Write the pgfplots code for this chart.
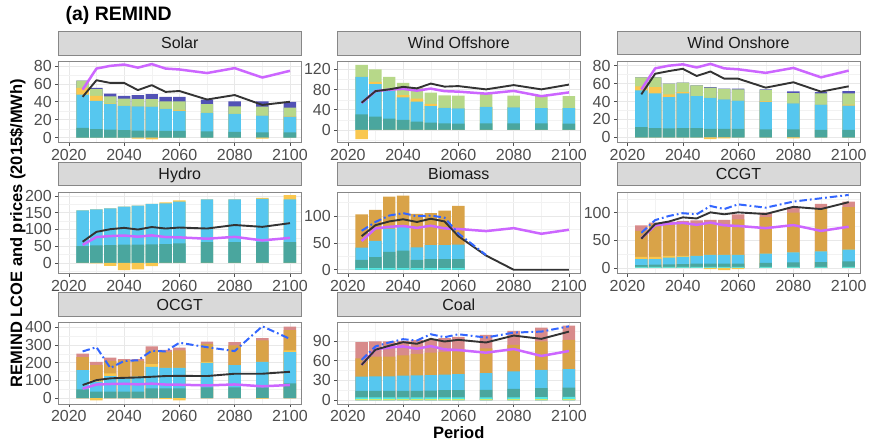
\documentclass[border=0pt]{standalone}
\usepackage{fontspec}
\setmainfont{Liberation Sans}
\usepackage{pgfplots}
\usepackage{pgfplotstable}
\pgfplotsset{compat=1.18}

\definecolor{tealc}{RGB}{74,166,158}
\definecolor{skyb}{RGB}{86,199,239}
\definecolor{yelc}{RGB}{249,199,79}
\definecolor{grnc}{RGB}{183,216,137}
\definecolor{dbluc}{RGB}{82,82,181}
\definecolor{orngc}{RGB}{217,163,72}
\definecolor{pinkc}{RGB}{216,139,139}
\definecolor{cync}{RGB}{84,232,228}
\definecolor{lgrc}{RGB}{205,232,110}
\definecolor{purpc}{RGB}{204,102,255}
\definecolor{blkc}{RGB}{51,51,51}
\definecolor{bluc}{RGB}{51,102,255}
\definecolor{stripgray}{RGB}{217,217,217}
\definecolor{bordergray}{RGB}{135,135,135}
\definecolor{gridmaj}{RGB}{232,232,232}
\definecolor{gridmin}{RGB}{242,242,242}
\definecolor{labgray}{RGB}{77,77,77}
\definecolor{striptext}{RGB}{26,26,26}

\pgfplotstableread{
year te bl ye gr db ng k p
2025 11 48 55.5 63.5 63.5 0 45.5 53.5
2030 9.5 41 46.7 54 55.5 0 64 77
2035 9 37.5 38 46 49 0 61 80
2040 8.5 35.5 35.5 43.5 46.5 0 61 81.5
2045 8 35 35 43 47.5 -1 53 78
2050 8 34.5 34.5 43 48.5 -2 58.5 82
2055 7.5 32 32 40.5 45.5 0 51 77
2060 7.5 30 31 40.5 45.5 0 52 76
2070 7 27.5 27.5 37.5 42.5 0 42.5 72
2080 6.5 26.5 26.5 35 40.5 0 47.5 77.5
2090 6 24.5 24.5 34.5 40.5 -1 36.5 67
2100 6 23.5 24 33.5 40 0 40 74.5
}\tSolar

\pgfplotstableread{
year te bl ye gr ng k p
2025 31 105.5 105.5 129 -18 54 53.5
2030 26.5 91 95.5 120 0 77 77
2035 22.5 78 80 105.5 0 80.5 80
2040 20 64.5 69 93.5 0 85.5 81.5
2045 16.5 56 62 84.5 0 82.5 78
2050 14.5 47.5 51.5 74 0 92 82
2055 13 44 44 68.5 0 86 77
2060 12.5 43 43 68 0 87 76
2070 13 46 46 72.5 0 80.5 72
2080 13 45 45 68 0 89 77.5
2090 13 43.5 43.5 67 0 80.5 67
2100 12.5 43.5 43.5 67 0 90 74.5
}\tOffshore

\pgfplotstableread{
year te bl ye gr db ng k p
2025 11.5 52.5 57 67 67 0 48 53.5
2030 10.5 49 56 67 67 0 71 77
2035 10 45 48 60 60 0 74 80
2040 10.5 49 50.5 61 61 0 76.5 81.5
2045 10.5 46 46 58 58 0 68.5 78
2050 9.5 44 44 55.5 56 -2 73.5 82
2055 9.5 42.5 42.5 54 54.3 -1 65.5 77
2060 9.5 41 41 53.5 54.3 0 65.5 76
2070 9 39.5 40.5 53 53.6 0 55.5 72
2080 9 38 38 49.5 51.4 -1 61.5 77.5
2090 8.5 36.5 36.5 49 50.6 0 51 67
2100 8.5 35.5 36.7 49 51.5 0 57 74.5
}\tOnshore

\pgfplotstableread{
year te bl ye ng k p
2025 50 157 157 0 63 53.5
2030 52 160 160 -2 92.5 77
2035 53 163 163 -9 100.5 80
2040 54 168 168 -22 104.5 81.5
2045 54 171 171 -20 99.5 78
2050 55 176 176 -10 107 82
2055 56 178 181 0 102.5 77
2060 58 183 187 0 105.5 76
2070 62 190 190 0 102.5 72
2080 62 190 190 0 113 77.5
2090 62 191 194 0 107.5 67
2100 62 190 202 0 118.5 74.5
}\tHydro

\pgfplotstableread{
year cy te bl or k d p
2025 3 18.5 41 103 62.5 72.5 53.5
2030 3 23.5 54 111.5 83 89 77
2035 3 33.5 76.5 136 90 101 80
2040 3 35.5 80 138 94 105.5 81.5
2045 3 18.5 41.5 104 89 99.5 78
2050 3 20 46 105.5 95 101 82
2055 3 20 46 110 90 97 77
2060 3 20 47 119 62.5 67.5 76
2070 nan nan nan nan 26.5 27.5 72
2080 nan nan nan nan 0 nan 77.5
2090 nan nan nan nan 0 nan 67
2100 nan nan nan nan 0 nan 74.5
}\tBiomass

\pgfplotstableread{
year cy te bl ye or pk ng k d p
2025 2 5 16 20 67 77 0 53 63.5 53.5
2030 2 6 16 20 79 82 0 79.5 86.5 77
2035 2 6.5 18.5 22 81 84 0 84 94 80
2040 2 7 20 22 81 85 0 91.5 99 81.5
2045 2 8 22 22 80 86 0 89.5 97 78
2050 2 8 23.5 23.5 80 87 -2 100.5 112 82
2055 2 8 23.5 23.5 79 87 -4 97 106.5 77
2060 2 8 23.5 23.5 88 97 -2 100.5 115 76
2070 2 9 26 26 92 100 0 97.5 109 72
2080 2 10 28 28 100 110 0 110.5 120 77.5
2090 2 10.5 30 30 107 116 0 106.5 126 67
2100 2 12 33 33 110 120 0 119 132 74.5
}\tCCGT

\pgfplotstableread{
year te bl ye or pk ng k d p
2025 50 158 158 232 251 0 74 264 53.5
2030 37 93 102 186 205 -13 102 288 77
2035 37 125 140 210 229 0 112 171 80
2040 37 112 112 214 220 0 115 210 81.5
2045 37 121 121 210 220 0 117 214 78
2050 56 177 192 270 292 0 121 268 82
2055 56 171 171 260 273 -5 125 264 77
2060 56 171 171 270 285 -13 126 313 76
2070 61 199 205 307 320 0 125 288 72
2080 61 186 186 298 316 0 138 266 77.5
2090 61 205 205 326 339 -3 138 406 67
2100 84 260 270 385 404 0 149 335 74.5
}\tOCGT

\pgfplotstableread{
year lg cy te bl or pk k d p
2025 1.5 4 14 35.5 63.5 88 53.5 61 53.5
2030 1.5 4 14 36 66 89 76.5 81.5 77
2035 1.5 4 14 36 66 89 82.5 87.5 80
2040 1.5 4 14 37 68 90 88 92.5 81.5
2045 1.5 4 14 37.5 70 91 85.5 90.5 78
2050 1.5 4 14.5 38 72 92 93 100 82
2055 1.5 4 15 38.5 73 94 89 95.5 77
2060 1.5 4 15 39.5 74 96 91.5 100 76
2070 1.5 4 15.5 41 78.5 99 87.5 95 72
2080 1.5 4 17 43.5 84 105 98 102.5 77.5
2090 1.5 4.5 18 46 89 110 93 104 67
2100 1.5 5 19 47 91.5 113 104 112 74.5
}\tCoal

\newcommand{\layer}[3]{\addplot[ybar, bar width=4.5, bar shift=0pt, fill=#3, draw=none] table[x=year,y=#2]{#1};}
\newcommand{\pline}[1]{\addplot[purpc, line width=2.5pt, line join=round] table[x=year,y=p]{#1};}
\newcommand{\kline}[1]{\addplot[blkc, line width=1.9pt, line join=round] table[x=year,y=k]{#1};}
\newcommand{\dline}[1]{\addplot[bluc, line width=2pt, dash pattern=on 7.5pt off 3pt on 1.8pt off 3pt] table[x=year,y=d]{#1};}

\pgfplotsset{
  panel/.style={
    scale only axis, width=243pt, height=81.6pt, anchor=south west,
    xmin=2016.2, xmax=2104.1,
    axis line style={draw=bordergray, line width=0.7pt},
    grid=both,
    major grid style={draw=gridmaj, line width=0.6pt},
    minor grid style={draw=gridmin, line width=0.35pt},
    xtick={2020,2040,2060,2080,2100}, minor xtick={2030,2050,2070,2090},
    tick align=outside, major tick length=3pt, minor tick length=0pt,
    tick pos=left,
    major tick style={draw=labgray, line width=0.6pt},
    tick label style={font=\fontsize{16}{16}\selectfont, text=labgray},
    /pgf/number format/assume math mode=true,
    /pgf/number format/1000 sep={},
    title style={at={(0.5,1)}, anchor=south, yshift=0pt, fill=stripgray,
      draw=bordergray, line width=0.7pt, minimum width=243pt,
      minimum height=23.5pt, inner sep=0pt, text height=11.5pt, text depth=0pt,
      font=\fontsize{16}{16}\selectfont, text=striptext},
  }
}

\begin{document}
\begin{tikzpicture}
\useasboundingbox (0,0) rectangle (869pt,-447pt);

% Solar
\begin{axis}[panel, at={(58.3pt,-142.8pt)}, ymin=-5.7, ymax=85.2,
  ytick={0,20,40,60,80}, minor ytick={10,30,50,70}, title={Solar}]
\layer{\tSolar}{db}{dbluc}
\layer{\tSolar}{gr}{grnc}
\layer{\tSolar}{ye}{yelc}
\layer{\tSolar}{bl}{skyb}
\layer{\tSolar}{te}{tealc}
\layer{\tSolar}{ng}{yelc}
\pline{\tSolar}
\kline{\tSolar}
\end{axis}

% Wind Offshore
\begin{axis}[panel, at={(337.3pt,-142.8pt)}, ymin=-25.5, ymax=136.4,
  ytick={0,40,80,120}, minor ytick={-20,20,60,100}, title={Wind Offshore}]
\layer{\tOffshore}{gr}{grnc}
\layer{\tOffshore}{ye}{yelc}
\layer{\tOffshore}{bl}{skyb}
\layer{\tOffshore}{te}{tealc}
\layer{\tOffshore}{ng}{yelc}
\pline{\tOffshore}
\kline{\tOffshore}
\end{axis}

% Wind Onshore
\begin{axis}[panel, at={(617pt,-142.8pt)}, ymin=-6, ymax=85,
  ytick={0,20,40,60,80}, minor ytick={10,30,50,70}, title={Wind Onshore}]
\layer{\tOnshore}{db}{dbluc}
\layer{\tOnshore}{gr}{grnc}
\layer{\tOnshore}{ye}{yelc}
\layer{\tOnshore}{bl}{skyb}
\layer{\tOnshore}{te}{tealc}
\layer{\tOnshore}{ng}{yelc}
\pline{\tOnshore}
\kline{\tOnshore}
\end{axis}

% Hydro
\begin{axis}[panel, at={(58.3pt,-273.5pt)}, ymin=-32, ymax=212,
  ytick={0,50,100,150,200}, minor ytick={-25,25,75,125,175}, title={Hydro}]
\layer{\tHydro}{ye}{yelc}
\layer{\tHydro}{bl}{skyb}
\layer{\tHydro}{te}{tealc}
\layer{\tHydro}{ng}{yelc}
\pline{\tHydro}
\kline{\tHydro}
\end{axis}

% Biomass
\begin{axis}[panel, at={(337.3pt,-273.5pt)}, ymin=-7, ymax=145,
  ytick={0,50,100}, minor ytick={25,75,125}, title={Biomass}]
\layer{\tBiomass}{or}{orngc}
\layer{\tBiomass}{bl}{skyb}
\layer{\tBiomass}{te}{tealc}
\layer{\tBiomass}{cy}{cync}
\pline{\tBiomass}
\kline{\tBiomass}
\dline{\tBiomass}
\end{axis}

% CCGT
\begin{axis}[panel, at={(617pt,-273.5pt)}, ymin=-10, ymax=137.5,
  ytick={0,50,100}, minor ytick={25,75,125}, title={CCGT}]
\layer{\tCCGT}{pk}{pinkc}
\layer{\tCCGT}{or}{orngc}
\layer{\tCCGT}{ye}{yelc}
\layer{\tCCGT}{bl}{skyb}
\layer{\tCCGT}{te}{tealc}
\layer{\tCCGT}{cy}{cync}
\layer{\tCCGT}{ng}{yelc}
\pline{\tCCGT}
\kline{\tCCGT}
\dline{\tCCGT}
\end{axis}

% OCGT
\begin{axis}[panel, at={(58.3pt,-404pt)}, ymin=-33, ymax=428,
  ytick={0,100,200,300,400}, minor ytick={50,150,250,350}, title={OCGT}]
\layer{\tOCGT}{pk}{pinkc}
\layer{\tOCGT}{or}{orngc}
\layer{\tOCGT}{ye}{yelc}
\layer{\tOCGT}{bl}{skyb}
\layer{\tOCGT}{te}{tealc}
\layer{\tOCGT}{ng}{yelc}
\pline{\tOCGT}
\kline{\tOCGT}
\dline{\tOCGT}
\end{axis}

% Coal
\begin{axis}[panel, at={(337.3pt,-404pt)}, ymin=-6, ymax=118,
  ytick={0,30,60,90}, minor ytick={15,45,75,105}, title={Coal}]
\layer{\tCoal}{pk}{pinkc}
\layer{\tCoal}{or}{orngc}
\layer{\tCoal}{bl}{skyb}
\layer{\tCoal}{te}{tealc}
\layer{\tCoal}{cy}{cync}
\layer{\tCoal}{lg}{lgrc}
\pline{\tCoal}
\kline{\tCoal}
\dline{\tCoal}
\end{axis}

\node[anchor=base west, font=\fontsize{19.5}{20}\selectfont\bfseries] at (62pt,-20.7pt) {(a) REMIND};
\node[anchor=base, rotate=90, font=\fontsize{16.5}{17}\selectfont\bfseries] at (22pt,-233pt) {REMIND LCOE and prices (2015\$/MWh)};
\node[anchor=base, font=\fontsize{16.5}{17}\selectfont\bfseries] at (458.7pt,-438.5pt) {Period};
\end{tikzpicture}
\end{document}
